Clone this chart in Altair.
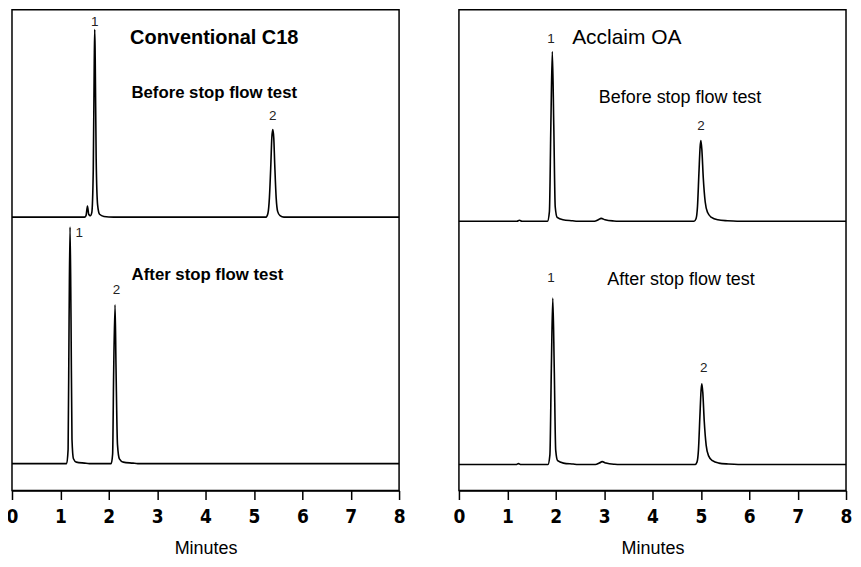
import altair as alt
import pandas as pd

# ---- trace data (minutes, detector response in display units) ----
lt_time = [0, 1.50, 1.53, 1.56, 1.585, 1.62, 1.65, 1.68, 1.70, 1.71, 1.72, 1.74, 1.77, 1.81, 1.90, 2.1,
           5.25, 5.29, 5.32, 5.35, 5.37, 5.39, 5.41, 5.43, 5.46, 5.49, 5.54, 5.62, 8]
lt_resp = [0, 0, 0.3, 2.3, 0.6, 0.3, 1.0, 10, 32, 39.0, 33, 12, 2.5, 0.6, 0.15, 0,
           0, 0.8, 4, 11, 16.5, 18.2, 16.5, 11, 4, 1.2, 0.3, 0, 0]

lb_time = [0, 1.13, 1.16, 1.18, 1.20, 1.22, 1.24, 1.27, 1.33, 1.5, 1.6,
           2.05, 2.08, 2.10, 2.13, 2.15, 2.18, 2.22, 2.30, 2.5, 2.6, 8]
lb_resp = [0, 0, 3, 30, 49.2, 30, 5, 1, 0.3, 0.1, 0,
           0, 2, 18, 33.0, 20, 4, 1, 0.3, 0.1, 0, 0]

rt_time = [0, 1.20, 1.25, 1.30, 1.83, 1.87, 1.90, 1.93, 1.96, 1.99, 2.03, 2.15, 2.35, 2.45,
           2.80, 2.88, 2.94, 3.02, 3.2, 3.3,
           4.86, 4.90, 4.93, 4.96, 4.985, 5.0, 5.02, 5.05, 5.09, 5.14, 5.22, 5.35, 5.55, 5.75, 8]
rt_resp = [0, 0, 0.2, 0, 0, 2, 20, 35.3, 20, 3, 0.8, 0.3, 0.1, 0,
           0, 0.3, 0.6, 0.3, 0.05, 0,
           0, 0.5, 3, 10, 15.5, 16.8, 15, 9, 4, 1.8, 0.8, 0.3, 0.1, 0, 0]

rb_time = [0, 1.18, 1.23, 1.28, 1.84, 1.88, 1.91, 1.94, 1.97, 2.00, 2.04, 2.16, 2.36, 2.46,
           2.82, 2.90, 2.96, 3.04, 3.22, 3.32,
           4.88, 4.92, 4.95, 4.98, 5.005, 5.02, 5.04, 5.07, 5.11, 5.16, 5.24, 5.37, 5.57, 5.77, 8]
rb_resp = [0, 0, 0.2, 0, 0, 2, 20, 34.6, 20, 3, 0.8, 0.3, 0.1, 0,
           0, 0.3, 0.6, 0.3, 0.05, 0,
           0, 0.5, 3, 10, 15.5, 16.8, 15, 9, 4, 1.8, 0.8, 0.3, 0.1, 0, 0]

# vertical offsets of the stacked traces
offsets = {"lt": 56.85, "lb": 5.6, "rt": 56.0, "rb": 5.4}

# ---- annotations ----
left_text = ["1", "2", "Conventional C18", "Before stop flow test", "1", "2", "After stop flow test"]
left_tx = [1.71, 5.39, 4.18, 4.18, 1.39, 2.16, 4.04]
left_ty = [97.5, 77.8, 94.2, 82.6, 53.5, 41.7, 44.8]
left_kind = ["num", "num", "title", "sub", "num", "num", "sub"]

right_text = ["1", "Acclaim OA", "Before stop flow test", "2", "1", "After stop flow test", "2"]
right_tx = [1.90, 3.47, 4.57, 5.0, 1.90, 4.59, 5.06]
right_ty = [93.8, 94.2, 81.7, 75.7, 44.2, 43.8, 25.5]
right_kind = ["num", "title", "sub", "num", "num", "sub", "num"]

x_ticks = [0, 1, 2, 3, 4, 5, 6, 7, 8]


def trace_df(times, resps, key):
    return pd.DataFrame({"t": times, "v": [r + offsets[key] for r in resps], "trace": key})


W, H = 388, 482
xscale = alt.Scale(domain=[0, 8], nice=False, zero=False)
yscale = alt.Scale(domain=[0, 100], nice=False, zero=False)

COND = "DejaVu Sans Condensed, Liberation Sans Narrow, Liberation Sans"

xaxis = alt.Axis(values=x_ticks, title="Minutes", grid=False, domainColor="black",
                 domainWidth=1.5, tickColor="black", tickWidth=1.5, tickSize=9,
                 labelFont=COND, labelFontWeight="bold", labelFontSize=19,
                 labelColor="black", labelPadding=8, labelFlush=False,
                 titleFont="Liberation Sans", titleFontWeight="normal", titleFontSize=18,
                 titleColor="black", titlePadding=13)


def panel(df, texts, tx, ty, kinds, bold_titles):
    line = alt.Chart(df).mark_line(color="black", strokeWidth=1.6, interpolate="monotone").encode(
        x=alt.X("t:Q", scale=xscale, axis=xaxis),
        y=alt.Y("v:Q", scale=yscale, axis=None),
        detail="trace:N",
    )
    tdf = pd.DataFrame({"label": texts, "x": tx, "y": ty, "kind": kinds})
    layers = [line]
    weight = "bold" if bold_titles else "normal"
    tsize = 20 if bold_titles else 21
    ssize = 16.8 if bold_titles else 18
    styles = {
        "num": dict(fontSize=13.5, fontWeight="normal", color="#222222"),
        "title": dict(fontSize=tsize, fontWeight=weight, color="black"),
        "sub": dict(fontSize=ssize, fontWeight=weight, color="black"),
    }
    for k, st in styles.items():
        layers.append(
            alt.Chart(tdf[tdf.kind == k]).mark_text(font="Liberation Sans", baseline="middle",
                                                    align="center", **st).encode(
                x=alt.X("x:Q", scale=xscale),
                y=alt.Y("y:Q", scale=yscale),
                text="label:N",
            )
        )
    return alt.layer(*layers).properties(width=W, height=H)


left_df = pd.concat([trace_df(lt_time, lt_resp, "lt"), trace_df(lb_time, lb_resp, "lb")])
right_df = pd.concat([trace_df(rt_time, rt_resp, "rt"), trace_df(rb_time, rb_resp, "rb")])

left = panel(left_df, left_text, left_tx, left_ty, left_kind, True)
right = panel(right_df, right_text, right_tx, right_ty, right_kind, False)

chart = alt.hconcat(left, right, spacing=46).properties(
    padding={"left": -3, "top": 0, "right": 0, "bottom": 0},
    background="white",
).configure_view(stroke="black", strokeWidth=1.5)

chart.save("out.html", embed_options={"renderer": "svg", "actions": False})
